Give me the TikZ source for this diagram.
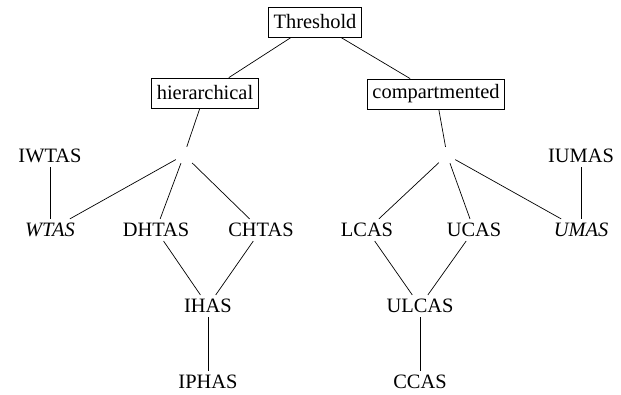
\documentclass[tikz,border=0pt]{standalone}
\usepackage{fontspec}
\setmainfont{Liberation Serif}
\begin{document}
\begin{tikzpicture}[x=1bp,y=1bp,
  every node/.style={font=\fontsize{20.5}{24}\selectfont, inner sep=4bp},
  boxed/.style={draw, line width=0.8bp, inner xsep=5bp, minimum height=30bp},
  hub/.style={minimum size=16bp, inner sep=0pt},
  link/.style={line width=0.7bp}]
\useasboundingbox (0,0) rectangle (621,394);
\node[boxed] (th) at (315,372) {Threshold};
\node[boxed] (hi) at (205,301) {hierarchical};
\node[boxed] (co) at (436,300) {compartmented};
\node[hub] (jl) at (184,239) {};
\node[hub] (jr) at (447,239) {};
\node (iwtas) at (50,238) {IWTAS};
\node (wtas) at (50,164) {\itshape WTAS};
\node (dhtas) at (156,164) {DHTAS};
\node (chtas) at (261,164) {CHTAS};
\node (ihas) at (208,88) {IHAS};
\node (iphas) at (208,12) {IPHAS};
\node (lcas) at (367,164) {LCAS};
\node (ucas) at (474,164) {UCAS};
\node (umas) at (581,164) {\itshape UMAS};
\node (iumas) at (581,238) {IUMAS};
\node (ulcas) at (420,88) {ULCAS};
\node (ccas) at (420,12) {CCAS};
\draw[link] (th) -- (hi);
\draw[link] (th) -- (co);
\draw[link] (hi) -- (jl);
\draw[link] (co) -- (jr);
\draw[link] (jl) -- (wtas);
\draw[link] (jl) -- (dhtas);
\draw[link] (jl) -- (chtas);
\draw[link] (iwtas) -- (wtas);
\draw[link] (dhtas) -- (ihas);
\draw[link] (chtas) -- (ihas);
\draw[link] (ihas) -- (iphas);
\draw[link] (jr) -- (lcas);
\draw[link] (jr) -- (ucas);
\draw[link] (jr) -- (umas);
\draw[link] (iumas) -- (umas);
\draw[link] (lcas) -- (ulcas);
\draw[link] (ucas) -- (ulcas);
\draw[link] (ulcas) -- (ccas);
\end{tikzpicture}
\end{document}
